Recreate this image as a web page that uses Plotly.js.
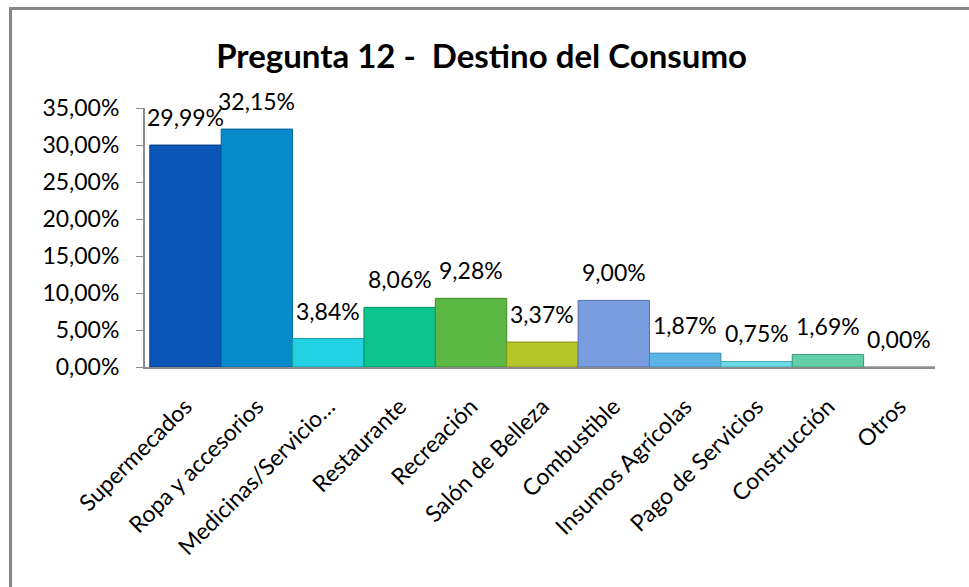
<!DOCTYPE html>
<html>
<head>
<meta charset="utf-8">
<script src="https://cdn.plot.ly/plotly-3.0.1.min.js"></script>
<style>
html,body{margin:0;padding:0;background:#fff;overflow:hidden;}
#wrap{position:relative;width:969px;height:587px;overflow:hidden;}
#chart{position:absolute;left:0;top:0;width:969px;height:587px;}
#frame{position:absolute;left:9px;top:7px;width:1100px;height:700px;border-left:3px solid #878787;border-top:3px solid #878787;pointer-events:none;}
</style>
</head>
<body>
<div id="wrap">
<div id="chart"></div>
<div id="frame"></div>
</div>
<script>
const categories = ["Supermecados", "Ropa y accesorios", "Medicinas/Servicio…", "Restaurante", "Recreación", "Salón de Belleza", "Combustible", "Insumos Agrícolas", "Pago de Servicios", "Construcción", "Otros"];
const values = [29.99, 32.15, 3.84, 8.06, 9.28, 3.37, 9.00, 1.87, 0.75, 1.69, 0.00];
const barColors = ["#0a55b5", "#078bcb", "#22d2e2", "#0cc38d", "#5bb843", "#b4c628", "#7a9ddf", "#5ab4e6", "#6adbe6", "#62cfa8", "#cccccc"];
const barEdges = ["#063d85", "#056597", "#159aa6", "#088e67", "#3f8a2d", "#85931b", "#5473ad", "#3c86b0", "#47a9b2", "#3f9b7b", "#999999"];
const yTickVals = [0, 5, 10, 15, 20, 25, 30, 35];
const yTickText = ["0,00%", "5,00%", "10,00%", "15,00%", "20,00%", "25,00%", "30,00%", "35,00%"];

const FONT = "Lato, 'Open Sans', sans-serif";

const trace = {
  type: "bar",
  x: categories,
  y: values,
  marker: {color: barColors, line: {color: barEdges, width: 1}},
  cliponaxis: false,
  hoverinfo: "x+y"
};

const labels = categories.map((c, i) => ({
  x: c, y: values[i], xref: "x", yref: "y",
  text: values[i].toFixed(2).replace(".", ",") + "%",
  showarrow: false, yanchor: "bottom", xanchor: "center",
  yshift: 12,
  font: {family: FONT, size: 23, color: "#000"}
}));

const layout = {
  width: 969,
  height: 587,
  paper_bgcolor: "rgba(0,0,0,0)",
  plot_bgcolor: "rgba(0,0,0,0)",
  margin: {l: 145, r: 34, t: 108, b: 220},
  bargap: 0,
  showlegend: false,
  font: {family: FONT, size: 23, color: "#000"},
  title: {
    text: "<b>Pregunta 12 -  Destino del Consumo</b>",
    font: {family: FONT, size: 33, color: "#000"},
    xref: "container", x: 0.497, xanchor: "center",
    yref: "container", y: 0.903, yanchor: "middle"
  },
  xaxis: {
    type: "category",
    tickangle: -45,
    showline: true, linecolor: "#8c8c8c", linewidth: 2,
    ticks: "", showgrid: false, zeroline: false,
    ticklabelstandoff: 15,
    tickfont: {family: FONT, size: 23, color: "#000"},
    automargin: false
  },
  yaxis: {
    range: [0, 35],
    tickvals: yTickVals,
    ticktext: yTickText,
    showline: true, linecolor: "#8c8c8c", linewidth: 2,
    ticks: "outside", ticklen: 7, tickcolor: "#8c8c8c", tickwidth: 1,
    ticklabelstandoff: 12,
    showgrid: false, zeroline: false,
    tickfont: {family: FONT, size: 23, color: "#000"},
    automargin: false
  },
  annotations: labels
};

Plotly.newPlot("chart", [trace], layout, {displayModeBar: false, staticPlot: true});
</script>
</body>
</html>
